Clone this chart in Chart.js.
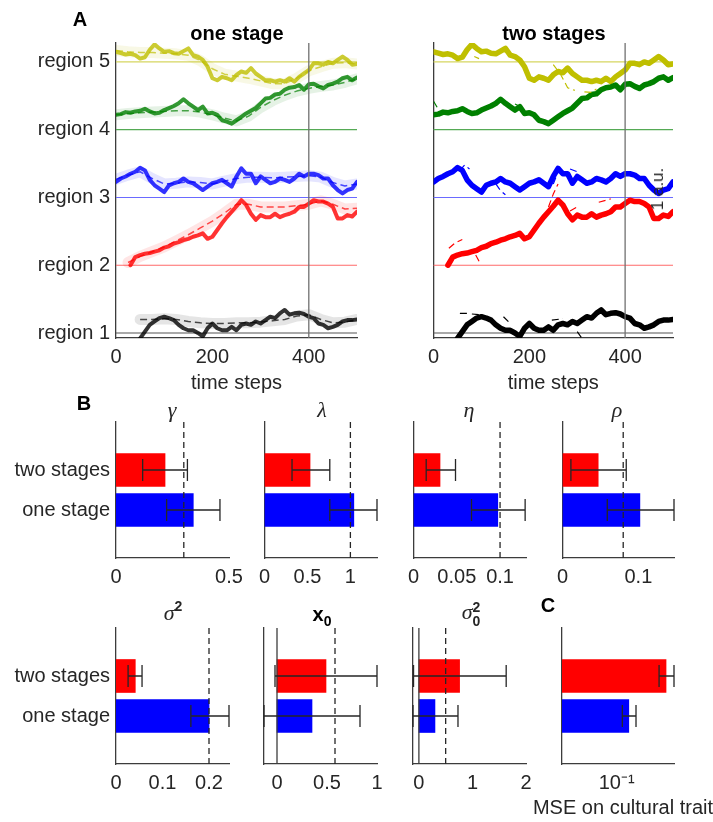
<!DOCTYPE html>
<html>
<head>
<meta charset="utf-8">
<title>One stage vs two stages</title>
<script src="https://cdn.jsdelivr.net/npm/chart.js@4.4.1/dist/chart.umd.min.js"></script>
<style>
  html, body { margin: 0; padding: 0; background: #fff; }
  #fig { position: relative; width: 713px; height: 822px; overflow: hidden;
         font-family: "Liberation Sans", Arial, sans-serif; color: #262626; }
  #fig canvas { position: absolute; }
  .t { position: absolute; transform: translate(-50%, -50%); white-space: nowrap;
       font-size: 20px; line-height: 20px; }
  .b { font-weight: bold; color: #000; }
  .g { font-family: "Liberation Serif", "DejaVu Serif", serif; font-style: italic; font-size: 22px; }
  .sm { font-size: 14px; font-weight: bold; }
</style>
</head>
<body>
<div id="fig">
  <canvas id="oneStage"></canvas>
  <canvas id="twoStages"></canvas>
  <canvas id="pGamma"></canvas>
  <canvas id="pLambda"></canvas>
  <canvas id="pEta"></canvas>
  <canvas id="pRho"></canvas>
  <canvas id="pSigma"></canvas>
  <canvas id="pX0"></canvas>
  <canvas id="pSigma0"></canvas>
  <canvas id="pMse"></canvas>

  <div class="t b" style="left:80px;top:19px">A</div>
  <div class="t b" style="left:237px;top:33px">one stage</div>
  <div class="t b" style="left:554px;top:33px">two stages</div>
  <div class="t" style="left:658px;top:189px;transform:translate(-50%,-50%) rotate(-90deg);font-size:17px">1 a.u.</div>

  <div class="t b" style="left:84px;top:403px">B</div>
  <div class="t g" style="left:172px;top:410px">γ</div>
  <div class="t g" style="left:322px;top:410px">λ</div>
  <div class="t g" style="left:469px;top:410px">η</div>
  <div class="t g" style="left:617px;top:410px">ρ</div>
  <div class="t" style="left:173px;top:614px"><span class="g">σ</span><span class="sm" style="position:relative;top:-9px">2</span></div>
  <div class="t b" style="left:322px;top:615px">x<span class="sm" style="position:relative;top:5px">0</span></div>
  <div class="t" style="left:471px;top:614px"><span class="g">σ</span><span class="sm" style="display:inline-block;line-height:14px;vertical-align:middle">2<br>0</span></div>
  <div class="t b" style="left:548px;top:605px">C</div>
  <div class="t" style="left:623px;top:807px">MSE on cultural trait</div>
</div>

<script>
// ===== Panel A: cultural trait per region =====
const timeSteps = [0,10,20,30,40,50,60,70,80,90,100,110,120,130,140,150,160,170,180,190,200,
    210,220,230,240,250,260,270,280,290,300,310,320,330,340,350,360,370,380,390,400,
    410,420,430,440,450,460,470,480,490,500];
const timeTicks = [0, 200, 400];
const splitStep = 400;

const regionLevels = [1, 2, 3, 4, 5];
const regionNames = ['region 1', 'region 2', 'region 3', 'region 4', 'region 5'];
const regionColors = ['#000000', '#ff0000', '#0000ff', '#008000', '#bfbf00'];
const baselineColors = ['#555555', '#ff6a6a', '#6a6aff', '#55aa55', '#d6d660'];

// observed trait (one value every 10 steps)
const region1Obs = [null,null,null,null,null,0.92,1.02,1.12,1.17,1.22,
    1.24,1.22,1.19,1.12,1.07,1.04,1.04,1.00,0.95,1.07,
    1.14,1.07,1.04,1.04,1.09,1.04,1.12,1.14,1.12,1.17,
    1.14,1.19,1.24,1.22,1.29,1.34,1.27,1.29,1.30,1.28,
    1.24,1.22,1.14,1.12,1.07,1.09,1.12,1.17,1.19,1.19,1.20];
const region2Obs = [null,null,null,2.00,2.12,2.15,2.17,2.18,2.20,2.22,
    2.26,2.28,2.32,2.34,2.37,2.39,2.42,2.44,2.47,2.39,
    2.42,2.52,2.62,2.71,2.79,2.87,2.96,2.89,2.76,2.67,
    2.74,2.71,2.71,2.76,2.71,2.74,2.76,2.79,2.86,2.86,
    2.91,2.96,2.94,2.94,2.91,2.86,2.69,2.69,2.74,2.72,2.79];
const region3Obs = [3.23,3.28,3.31,3.35,3.38,3.44,3.40,3.26,3.18,3.13,
    3.08,3.18,3.21,3.23,3.28,3.23,3.21,3.16,3.11,3.16,
    3.21,3.23,3.26,3.21,3.16,3.31,3.43,3.35,3.35,3.21,
    3.31,3.26,3.21,3.23,3.28,3.26,3.23,3.28,3.35,3.31,
    3.35,3.35,3.33,3.28,3.28,3.18,3.11,3.06,3.11,3.13,3.23];
const region4Obs = [4.22,4.23,4.26,4.25,4.27,4.28,4.31,4.27,4.24,4.25,
    4.29,4.32,4.35,4.39,4.45,4.39,4.34,4.29,4.34,4.24,
    4.25,4.22,4.14,4.12,4.09,4.14,4.19,4.24,4.28,4.32,
    4.39,4.46,4.47,4.52,4.53,4.59,4.62,4.63,4.66,4.59,
    4.67,4.68,4.64,4.61,4.66,4.68,4.71,4.76,4.78,4.73,4.77];
const region5Obs = [5.15,5.13,5.11,5.12,5.10,5.05,5.07,5.18,5.26,5.20,
    5.15,5.16,5.13,5.12,5.16,5.20,5.10,5.08,5.03,4.93,
    4.76,4.73,4.78,4.76,4.73,4.81,4.86,4.84,4.91,4.83,
    4.78,4.73,4.73,4.71,4.73,4.71,4.76,4.71,4.78,4.83,
    4.88,4.98,4.98,4.96,5.00,4.98,5.03,5.08,5.03,4.96,4.97];

// one-stage model fit (every 25 steps)
const fitSteps = [0,25,50,75,100,125,150,175,200,225,250,275,300,325,350,375,400,425,450,475,500];
const region1Fit = [null,null,1.20,1.20,1.21,1.20,1.17,1.15,1.14,1.14,1.15,1.15,1.16,1.18,1.20,1.25,1.27,1.20,1.15,1.16,1.20];
const region2Fit = [null,2.04,2.13,2.20,2.27,2.36,2.45,2.55,2.65,2.77,2.90,2.90,2.86,2.86,2.86,2.88,2.90,2.95,2.90,2.83,2.84];
const region3Fit = [3.27,3.33,3.38,3.28,3.20,3.21,3.23,3.22,3.20,3.24,3.28,3.30,3.30,3.29,3.30,3.31,3.32,3.30,3.22,3.17,3.20];
const region4Fit = [4.22,4.24,4.25,4.26,4.27,4.28,4.28,4.26,4.22,4.17,4.13,4.20,4.33,4.43,4.51,4.57,4.61,4.64,4.66,4.70,4.75];
const region5Fit = [5.17,5.15,5.14,5.14,5.13,5.12,5.10,5.02,4.90,4.82,4.79,4.76,4.72,4.68,4.68,4.76,4.87,4.93,4.98,4.99,4.97];

// two-stage model fit: only the pieces that show next to the data, [step, value]
const region1Fit2 = [[[55,1.29],[70,1.29]], [[80,1.28],[95,1.27]], [[146,1.24],[160,1.14]], [[247,1.19],[270,1.21]], [[300,1.02],[310,0.92]]];
const region2Fit2 = [[[32,2.25],[45,2.33],[60,2.38]], [[88,2.15],[98,2.02]], [[240,2.86],[250,3.05],[260,3.2]], [[285,2.80],[300,2.86]], [[345,2.93],[370,2.98]]];
const region3Fit2 = [[[55,3.40],[65,3.48],[75,3.42]], [[130,3.20],[140,3.10],[150,3.04]], [[250,3.20],[260,3.38]], [[285,3.42],[300,3.38]]];
const region4Fit2 = [[[0,4.42],[10,4.30]], [[170,4.38],[185,4.33]]];
const region5Fit2 = [[[85,5.08],[95,5.05]], [[180,5.02],[190,4.88],[200,4.74]], [[250,4.96],[265,4.82],[280,4.62],[295,4.58]], [[315,4.56],[330,4.55],[340,4.60]]];

const observed = [region1Obs, region2Obs, region3Obs, region4Obs, region5Obs];
const oneStageFits = [region1Fit, region2Fit, region3Fit, region4Fit, region5Fit];
const twoStageFits = [region1Fit2, region2Fit2, region3Fit2, region4Fit2, region5Fit2];

// ===== Panel B: parameter estimates, [gamma, lambda, eta, rho, sigma2, x0, sigma0^2] =====
const groupNames = ['one stage', 'two stages'];   // y = 1, 2
const groupLevels = [1, 2];
const oneStageMean = [0.342, 1.04, 0.0974, 0.102, 0.200, 0.35, 0.30];
const oneStageLo   = [0.224, 0.76, 0.067, 0.059, 0.161, -0.13, -0.11];
const oneStageHi   = [0.460, 1.31, 0.129, 0.147, 0.243, 0.83, 0.73];
const twoStageMean = [0.217, 0.53, 0.0306, 0.047, 0.0415, 0.49, 0.76];
const twoStageLo   = [0.118, 0.32, 0.0146, 0.011, 0.026, -0.02, -0.10];
const twoStageHi   = [0.316, 0.76, 0.0485, 0.084, 0.056, 1.00, 1.63];
const trueValues   = [0.3, 1.0, 0.1, 0.08, 0.2, 0.58, 0.5];
const axisMin   = [0, 0, 0, 0, 0, -0.13, -0.11];
const axisMax   = [0.5, 1.31, 0.13, 0.147, 0.243, 1.0, 2.0];
const axisTicks = [[0, 0.5], [0, 0.5, 1], [0, 0.05, 0.1], [0, 0.1], [0, 0.1, 0.2], [0, 0.5, 1], [0, 1, 2]];

// ===== Panel C: MSE on cultural trait, [one stage, two stages] =====
const mseMean = [0.140, 0.393];
const mseLo   = [0.117, 0.324];
const mseHi   = [0.171, 0.490];
const mseTicks = [0.1];

const RED = '#ff0000';
const BLUE = '#0000ff';
const AXIS = '#3c3c3c';

Chart.defaults.font.family = '"Liberation Sans", Arial, sans-serif';
Chart.defaults.font.size = 20;
Chart.defaults.color = '#262626';
Chart.defaults.animation = false;
Chart.defaults.plugins.legend.display = false;
Chart.defaults.plugins.tooltip.enabled = false;

// baselines, split line, error bars and reference lines
Chart.register({
    id: 'refLines',
    beforeDatasetsDraw(chart, args, opts) {
        if (!opts.levels) return;
        const { ctx, chartArea: a } = chart;
        const y = chart.scales.y;
        ctx.save();
        ctx.lineWidth = 1.2;
        opts.levels.forEach((lv, i) => {
            const py = y.getPixelForValue(lv);
            ctx.strokeStyle = opts.levelColors[i];
            ctx.beginPath(); ctx.moveTo(a.left, py); ctx.lineTo(a.right, py); ctx.stroke();
        });
        ctx.restore();
    },
    afterDatasetsDraw(chart, args, opts) {
        const { ctx, chartArea: a } = chart;
        const x = chart.scales.x, y = chart.scales.y;
        ctx.save();
        ctx.lineWidth = 1.3;
        ctx.strokeStyle = AXIS;
        if (opts.split !== undefined) {
            const px = x.getPixelForValue(opts.split);
            ctx.strokeStyle = '#707070';
            ctx.beginPath(); ctx.moveTo(px, a.top); ctx.lineTo(px, a.bottom); ctx.stroke();
        }
        if (opts.zero) {
            const px = x.getPixelForValue(0);
            ctx.strokeStyle = AXIS;
            ctx.beginPath(); ctx.moveTo(px, a.top); ctx.lineTo(px, a.bottom); ctx.stroke();
        }
        chart.data.datasets.forEach(ds => {
            if (!ds.errLo) return;
            ctx.strokeStyle = '#262626';
            ds.data.forEach((d, i) => {
                const py = y.getPixelForValue(d.y);
                const x0 = x.getPixelForValue(ds.errLo[i]);
                const x1 = x.getPixelForValue(ds.errHi[i]);
                ctx.beginPath();
                ctx.moveTo(x0, py); ctx.lineTo(x1, py);
                ctx.moveTo(x0, py - 11); ctx.lineTo(x0, py + 11);
                ctx.moveTo(x1, py - 11); ctx.lineTo(x1, py + 11);
                ctx.stroke();
            });
        });
        if (opts.truth !== undefined) {
            const px = x.getPixelForValue(opts.truth);
            ctx.strokeStyle = '#262626';
            ctx.setLineDash([6, 4]);
            ctx.beginPath(); ctx.moveTo(px, a.top); ctx.lineTo(px, a.bottom); ctx.stroke();
        }
        ctx.restore();
    }
});

function placeCanvas(id, left, top, width, height) {
    const c = document.getElementById(id);
    c.width = width; c.height = height;
    c.style.left = left + 'px'; c.style.top = top + 'px';
    c.style.width = width + 'px'; c.style.height = height + 'px';
    return c;
}

function pairs(xs, ys) {
    return xs.map((x, i) => ({ x: x, y: ys[i] }));
}

function segmentPoints(segments) {
    const out = [];
    segments.forEach((seg, k) => {
        if (k) out.push({ x: seg[0][0], y: null });
        seg.forEach(p => out.push({ x: p[0], y: p[1] }));
    });
    return out;
}

function hexToRgba(hex, alpha) {
    const r = parseInt(hex.slice(1, 3), 16);
    const g = parseInt(hex.slice(3, 5), 16);
    const b = parseInt(hex.slice(5, 7), 16);
    return `rgba(${r}, ${g}, ${b}, ${alpha})`;
}

// chart area for both trace panels: top 43, bottom 338
function buildTraceChart(id, left, twoStage) {
    const yAxisWidth = twoStage ? 12 : 116;
    const canvas = placeCanvas(id, left, 18, twoStage ? 278 : 383, 382);
    const datasets = [];

    observed.forEach((vals, r) => {
        const col = regionColors[r];
        if (!twoStage) {
            datasets.push({ data: pairs(fitSteps, oneStageFits[r]), borderColor: hexToRgba(col, 0.1), borderWidth: 11, order: 3 });
            datasets.push({ data: pairs(timeSteps, vals), borderColor: hexToRgba(col, 0.8), borderWidth: 4, order: 2 });
            datasets.push({ data: pairs(fitSteps, oneStageFits[r]), borderColor: hexToRgba(col, 0.7), borderWidth: 1.5,
                            borderDash: [7, 4], borderCapStyle: 'butt', order: 1 });
        } else {
            datasets.push({ data: pairs(timeSteps, vals), borderColor: col, borderWidth: 5.5, order: 2 });
            datasets.push({ data: segmentPoints(twoStageFits[r]), borderColor: col, borderWidth: 1.2,
                            borderDash: [7, 4], borderCapStyle: 'butt', order: 1 });
        }
    });

    new Chart(canvas, {
        type: 'line',
        data: { datasets },
        options: {
            responsive: false,
            devicePixelRatio: 1,
            layout: { padding: { top: 25, right: 26, left: 0, bottom: 0 } },
            elements: {
                point: { radius: 0 },
                line: { tension: 0, borderJoinStyle: 'round', borderCapStyle: 'round' }
            },
            scales: {
                x: {
                    type: 'linear', min: 0, max: 500,
                    afterBuildTicks: s => { s.ticks = timeTicks.map(v => ({ value: v })); },
                    afterFit: s => { s.height = 62; },
                    ticks: { padding: 7, callback: v => String(v) },
                    grid: { display: false, drawTicks: false },
                    border: { color: AXIS, width: 1.3 },
                    title: { display: true, text: 'time steps', padding: { top: 0, bottom: 5 } }
                },
                y: {
                    type: 'linear', min: 0.926, max: 5.28,
                    afterBuildTicks: s => { s.ticks = regionLevels.map(v => ({ value: v })); },
                    afterFit: s => { s.width = yAxisWidth; },
                    ticks: { display: !twoStage, padding: 6, callback: v => regionNames[v - 1] },
                    grid: { display: false, drawTicks: false },
                    border: { color: AXIS, width: 1.3 }
                }
            },
            plugins: {
                refLines: { levels: regionLevels, levelColors: baselineColors, split: splitStep }
            }
        }
    });
}

// chart area: top = canvas top + 24, height 136
function buildBarChart(id, left, top, opts) {
    const yAxisWidth = opts.showGroups ? 116 : 12;
    const canvas = placeCanvas(id, left, top, opts.width, 196);
    const xScale = {
        type: opts.log ? 'logarithmic' : 'linear',
        min: opts.min, max: opts.max,
        afterBuildTicks: s => { s.ticks = opts.ticks.map(v => ({ value: v })); },
        afterFit: s => { s.height = 36; },
        ticks: { padding: 7, callback: opts.tickLabel || (v => String(v)) },
        grid: { display: false, drawTicks: false },
        border: { color: AXIS, width: 1.3 }
    };
    new Chart(canvas, {
        type: 'bar',
        data: {
            datasets: [{
                data: [{ x: opts.mean[0], y: groupLevels[0] }, { x: opts.mean[1], y: groupLevels[1] }],
                backgroundColor: [BLUE, RED],
                errLo: opts.lo,
                errHi: opts.hi,
                barThickness: 33
            }]
        },
        options: {
            indexAxis: 'y',
            responsive: false,
            devicePixelRatio: 1,
            layout: { padding: { top: 24, right: 26, left: 0, bottom: 0 } },
            scales: {
                x: xScale,
                y: {
                    type: 'linear', min: -0.2, max: 3.2, offset: false,
                    afterBuildTicks: s => { s.ticks = groupLevels.map(v => ({ value: v })); },
                    afterFit: s => { s.width = yAxisWidth; },
                    ticks: { display: !!opts.showGroups, padding: 6, callback: v => groupNames[v - 1] },
                    grid: { display: false, drawTicks: false, offset: false },
                    border: { color: AXIS, width: 1.3 }
                }
            },
            plugins: {
                refLines: { truth: opts.truth, zero: opts.min < 0 }
            }
        }
    });
}

function paramChart(id, p, left, top, width, showGroups) {
    buildBarChart(id, left, top, {
        width, showGroups,
        mean: [oneStageMean[p], twoStageMean[p]],
        lo: [oneStageLo[p], twoStageLo[p]],
        hi: [oneStageHi[p], twoStageHi[p]],
        truth: trueValues[p],
        min: axisMin[p], max: axisMax[p], ticks: axisTicks[p]
    });
}

buildTraceChart('oneStage', 0, false);
buildTraceChart('twoStages', 421, true);

paramChart('pGamma', 0, 0, 398, 255, true);
paramChart('pLambda', 1, 252, 398, 151, false);
paramChart('pEta', 2, 401, 398, 151, false);
paramChart('pRho', 3, 550, 398, 150, false);
paramChart('pSigma', 4, 0, 604, 255, true);
paramChart('pX0', 5, 252, 604, 151, false);
paramChart('pSigma0', 6, 401, 604, 151, false);

buildBarChart('pMse', 550, 604, {
    width: 150, showGroups: false, log: true,
    mean: mseMean, lo: mseLo, hi: mseHi,
    min: 0.022, max: 0.49, ticks: mseTicks,
    tickLabel: v => '10⁻¹'
});
</script>
</body>
</html>
